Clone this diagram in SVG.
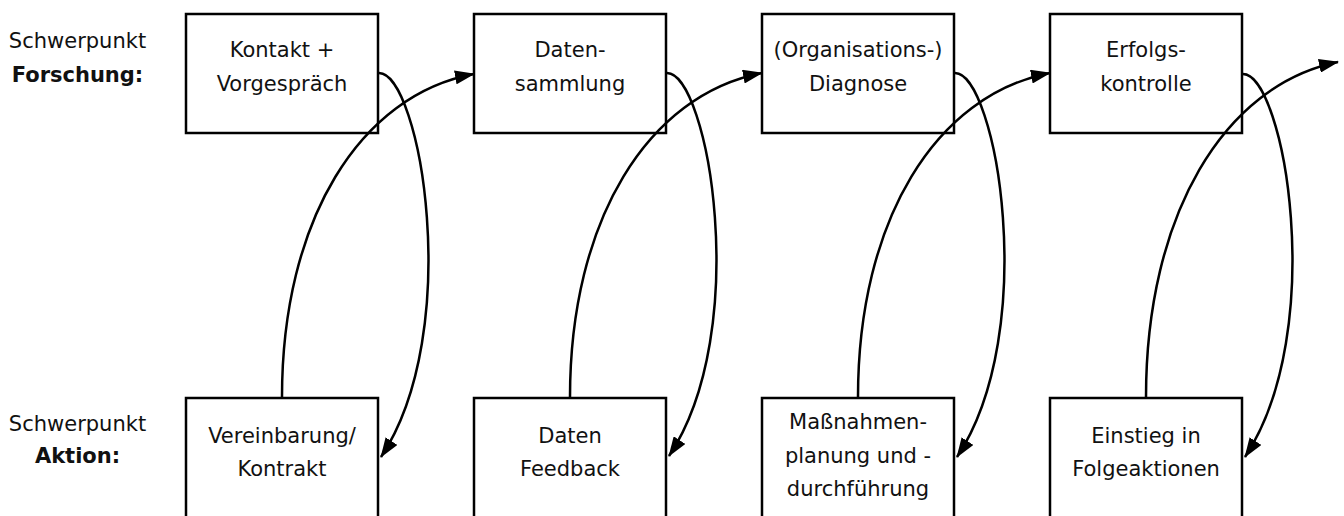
<svg xmlns="http://www.w3.org/2000/svg" width="1344" height="516" viewBox="0 0 1344 516">
<defs>
<marker id="ah" markerUnits="userSpaceOnUse" markerWidth="20" markerHeight="14" refX="19" refY="7" orient="auto">
<path d="M0,0 L20,7 L0,14 z" fill="#000"/>
</marker>
<style>
text{font-family:"DejaVu Sans",Verdana,sans-serif;font-size:21px;fill:#111;text-anchor:middle;}
.b{font-weight:bold;}
rect{fill:#fff;stroke:#000;stroke-width:2.5;}
.conn path{fill:none;stroke:#000;stroke-width:2.5;marker-end:url(#ah);}
</style>
</defs>
<rect x="0" y="0" width="1344" height="516" style="fill:#fff;stroke:none"/>
<g id="label-forschung">
<text x="77.5" y="48">Schwerpunkt</text>
<text x="77.5" y="82" class="b">Forschung:</text>
</g>
<g id="label-aktion">
<text x="77.5" y="431">Schwerpunkt</text>
<text x="77.5" y="463" class="b">Aktion:</text>
</g>
<g id="n1"><rect x="186" y="14" width="192" height="119"/><text x="282" y="57">Kontakt +</text><text x="282" y="91">Vorgespräch</text></g>
<g id="n2"><rect x="474" y="14" width="192" height="119"/><text x="570" y="57">Daten-</text><text x="570" y="91">sammlung</text></g>
<g id="n3"><rect x="762" y="14" width="192" height="119"/><text x="858" y="57">(Organisations-)</text><text x="858" y="91">Diagnose</text></g>
<g id="n4"><rect x="1050" y="14" width="192" height="119"/><text x="1146" y="57">Erfolgs-</text><text x="1146" y="91">kontrolle</text></g>
<g id="m1"><rect x="186" y="398" width="192" height="122"/><text x="282" y="443">Vereinbarung/</text><text x="282" y="476">Kontrakt</text></g>
<g id="m2"><rect x="474" y="398" width="192" height="122"/><text x="570" y="443">Daten</text><text x="570" y="476">Feedback</text></g>
<g id="m3"><rect x="762" y="398" width="192" height="122"/><text x="858" y="429">Maßnahmen-</text><text x="858" y="463">planung und -</text><text x="858" y="496">durchführung</text></g>
<g id="m4"><rect x="1050" y="398" width="192" height="122"/><text x="1146" y="443">Einstieg in</text><text x="1146" y="476">Folgeaktionen</text></g>
<g id="connectors" class="conn">
<path d="M379,73 C420,73 465,330 381,457"/>
<path d="M282,397 C282,220 360,95 474,74"/>
<path d="M667,73 C708,73 753,330 669,456"/>
<path d="M570,397 C570,220 648,95 762,73"/>
<path d="M955,73 C996,73 1041,330 957,457"/>
<path d="M858,397 C858,220 936,95 1050,73"/>
<path d="M1243,74 C1284,74 1329,330 1245,457"/>
<path d="M1146,397 C1146,215 1224,85 1338,62"/>
</g>
</svg>
